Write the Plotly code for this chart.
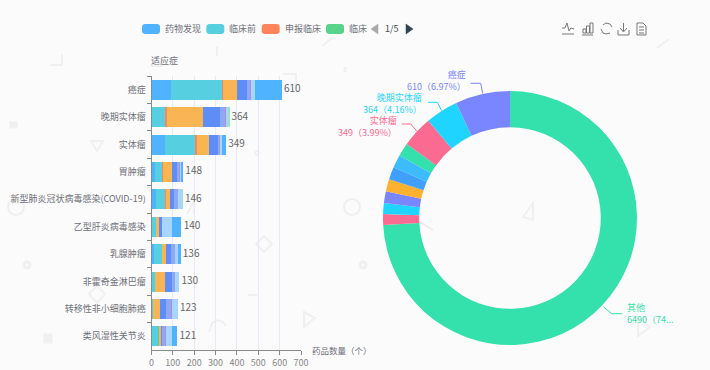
import math
import plotly.graph_objects as go

W, H = 710, 370
FONT = "Noto Sans CJK SC"
BG = "#fbfbfb"

categories = ["癌症", "晚期实体瘤", "实体瘤", "胃肿瘤", "新型肺炎冠状病毒感染(COVID-19)",
              "乙型肝炎病毒感染", "乳腺肿瘤", "非霍奇金淋巴瘤", "转移性非小细胞肺癌", "类风湿性关节炎"]
totals = [610, 364, 349, 148, 146, 140, 136, 130, 123, 121]

stage_names = ["药物发现", "临床前", "申报临床", "临床", "临床I期", "临床II期", "临床III期",
               "批准上市", "无进展", "终止", "其他阶段"]
stage_colors = ["#4fb3ff", "#56d0e0", "#ff845c", "#57d38c", "#f9b454", "#5e8df5", "#8fa8f5",
                "#b18fd8", "#a8d5ff", "#9ce3c0", "#4fb3ff"]
s_discovery = [90, 0, 64, 17, 20, 0, 11, 0, 0, 2]
s_preclinical = [239, 65, 140, 34, 45, 23, 37, 17, 6, 28]
s_ind = [4, 9, 7, 1, 1, 0, 0, 0, 0, 0]
s_clinical = [1, 0, 0, 0, 0, 0, 0, 0, 0, 3]
s_phase1 = [67, 165, 59, 45, 19, 11, 22, 47, 33, 12]
s_phase2 = [47, 84, 42, 23, 19, 14, 22, 33, 28, 5]
s_phase3 = [15, 22, 6, 9, 18, 0, 16, 11, 25, 14]
s_approved = [5, 6, 3, 5, 0, 1, 4, 4, 6, 2]
s_stalled = [11, 8, 8, 5, 19, 46, 11, 18, 25, 31]
s_stopped = [6, 5, 0, 0, 4, 3, 0, 0, 0, 1]
s_other = [125, 0, 20, 9, 0, 42, 13, 0, 0, 23]
stage_values = [s_discovery, s_preclinical, s_ind, s_clinical, s_phase1, s_phase2, s_phase3,
                s_approved, s_stalled, s_stopped, s_other]

pie_labels = ["其他", "类风湿性关节炎", "转移性非小细胞肺癌", "非霍奇金淋巴瘤", "乳腺肿瘤",
              "乙型肝炎病毒感染", "新型肺炎冠状病毒感染(COVID-19)", "胃肿瘤", "实体瘤", "晚期实体瘤", "癌症"]
pie_values = [6490, 121, 123, 130, 136, 140, 146, 148, 349, 364, 610]
pie_colors = ["#34e0ab", "#fb6a90", "#1fd5ff", "#7a86ff", "#ffb02e", "#3fa0ff", "#3cbcff",
              "#34e0ab", "#fb6a90", "#1fd5ff", "#7a86ff"]

legend_labels = ["药物发现", "临床前", "申报临床", "临床"]
x_ticks = [0, 100, 200, 300, 400, 500, 600, 700]


def px(x):
    return x / W


def py(y):
    return 1 - y / H


def path(points, close=False):
    s = "M " + " L ".join(f"{px(a):.5f} {py(b):.5f}" for a, b in points)
    return s + (" Z" if close else "")


def rrect(x0, y0, x1, y1, r=3):
    n = 5
    pts = []
    for cx, cy, a0 in [(x1 - r, y0 + r, -90), (x1 - r, y1 - r, 0), (x0 + r, y1 - r, 90), (x0 + r, y0 + r, 180)]:
        for i in range(n + 1):
            a = math.radians(a0 + 90 * i / n)
            pts.append((cx + r * math.cos(a), cy + r * math.sin(a)))
    return path(pts, True)


shapes = []


def line(points, color, width=1, close=False, fill=None, layer="above"):
    shapes.append(dict(type="path", xref="paper", yref="paper", path=path(points, close),
                       line=dict(color=color, width=width),
                       fillcolor=fill if fill else "rgba(0,0,0,0)", layer=layer))


def ring(cx, cy, r, color="#efefef", width=2):
    shapes.append(dict(type="circle", xref="paper", yref="paper", x0=px(cx - r), x1=px(cx + r),
                       y0=py(cy + r), y1=py(cy - r), line=dict(color=color, width=width), layer="below"))


# faint background decoration
WM = "#f0f0f0"
ring(16, 207, 8)
ring(352, 207, 8)
ring(27, 265, 3, WM, 3)
ring(363, 265, 3, WM, 3)
ring(257, 153, 2, WM, 2)
line([(91, 141), (103, 141), (97, 151)], WM, 2, True, layer="below")
line([(187, 214), (194, 201), (194, 214)], WM, 2, False, layer="below")
line([(523, 217), (533, 203), (533, 220)], WM, 2, True, layer="below")
line([(264, 236), (272, 244), (264, 252), (256, 244)], WM, 2, True, layer="below")
line([(97, 286), (105, 294), (97, 303), (89, 294)], WM, 2, True, layer="below")
line([(304, 312), (315, 318), (304, 327)], WM, 2, True, layer="below")
line([(248, 295), (257, 295)], WM, 2, layer="below")
line([(209, 332), (212, 323), (218, 320), (223, 322), (226, 326)], WM, 2, layer="below")
line([(45, 335), (51, 335), (51, 342), (45, 342)], WM, 3, True, WM, layer="below")
line([(11, 123), (16, 123), (16, 127), (11, 127)], WM, 3, True, WM, layer="below")
line([(638, 318), (650, 327), (638, 336)], WM, 2, True, layer="below")
line([(50, 65), (62, 65), (62, 54)], WM, 2, layer="below")
line([(657, 48), (669, 39)], WM, 2, layer="below")
line([(322, 46), (332, 38)], WM, 2, layer="below")
line([(345, 67), (345, 72)], WM, 3, layer="below")
line([(217, 46), (217, 56)], WM, 2, layer="below")
line([(420, 222), (433, 230)], "#ececec", 2, layer="below")
line([(283, 74), (296, 74), (296, 88)], WM, 2, layer="below")
line([(150, 66), (162, 66), (162, 60)], WM, 2, layer="below")

# legend swatches and pager
for (x0, x1), c in zip([(142, 160), (206.3, 224.3), (261.7, 279.7), (326, 344)],
                       [stage_colors[0], stage_colors[1], stage_colors[2], stage_colors[3]]):
    shapes.append(dict(type="path", xref="paper", yref="paper", path=rrect(x0, 24, x1, 34),
                       fillcolor=c, line=dict(width=0)))
line([(378, 24), (371, 29), (378, 34)], "#aaaaaa", 0.5, True, "#aaaaaa")
line([(406, 24), (413, 29), (406, 34)], "#2f4554", 0.5, True, "#2f4554")

# toolbar icons
IC = "#777777"
line([(562, 34), (574, 34)], IC)
line([(562, 28), (565, 28), (567, 23), (569, 31), (571, 28), (574, 29)], IC)
line([(582, 35), (593, 35)], IC)
for a, b, top in [(583, 586, 29), (586.5, 589.5, 26), (590, 593, 23)]:
    line([(a, 33), (a, top), (b, top), (b, 33)], IC, close=True)
line([(603, 25), (606, 23), (610, 24), (612, 27)], IC)
line([(610, 33), (606, 34), (603, 33), (601, 29)], IC)
line([(623.5, 23), (623.5, 31)], IC)
line([(620, 28), (623.5, 32), (627, 28)], IC)
line([(618, 30), (618, 35), (629, 35), (629, 30)], IC)
line([(637, 23), (643, 23), (646, 26), (646, 35), (637, 35)], IC, close=True)
for yy in (27, 30, 33):
    line([(639, yy), (644, yy)], IC)

# pie leader lines
line([(482.7, 93.3), (480.7, 83.3), (470.7, 83.3)], pie_colors[10])
line([(441.7, 110.7), (437.3, 102.3), (428, 102.3)], pie_colors[9])
line([(417.3, 131.7), (410.7, 124), (401.7, 124)], pie_colors[8])
line([(603.3, 306.7), (611.7, 313.7), (622.3, 313.7)], pie_colors[0])

annotations = []


def text(x, y, t, color, size=9, anchor="left"):
    annotations.append(dict(xref="paper", yref="paper", x=px(x), y=py(y), text=t, showarrow=False,
                            xanchor=anchor, yanchor="middle", align=anchor,
                            borderpad=0, font=dict(family=FONT, size=size, color=color)))


GREY = "#6e7079"
for x, t in zip([163.7, 228, 283.7, 348], legend_labels):
    text(x, 28.5, t, GREY)
text(392, 28.5, "1/5", "#444444", 9, "center")
text(149.5, 60, "适应症", GREY)
text(311, 349.5, "药品数量（个）", GREY, 8.5)

text(466.5, 80.3, f"{pie_labels[10]}<br>{pie_values[10]}（6.97%）", pie_colors[10], anchor="right")
text(422.7, 103, f"{pie_labels[9]}<br>{pie_values[9]}（4.16%）", pie_colors[9], anchor="right")
text(397.7, 126, f"{pie_labels[8]}<br>{pie_values[8]}（3.99%）", pie_colors[8], anchor="right")
text(625.5, 313, f"{pie_labels[0]}<br>{pie_values[0]}（74...", pie_colors[0])

fig = go.Figure()
for name, vals, col in zip(stage_names, stage_values, stage_colors):
    fig.add_trace(go.Bar(y=categories, x=vals, name=name, orientation="h",
                         marker=dict(color=col, line=dict(width=0)), showlegend=False))
fig.add_trace(go.Scatter(y=categories, x=totals, mode="text", text=[f" {v}" for v in totals],
                         textposition="middle right", cliponaxis=False, showlegend=False,
                         textfont=dict(family=FONT, size=10, color="#666666")))
fig.add_trace(go.Pie(labels=pie_labels, values=pie_values, sort=False, direction="clockwise", rotation=0,
                     hole=0.715, marker=dict(colors=pie_colors, line=dict(width=0)), textinfo="none",
                     showlegend=False, domain=dict(x=[px(383), px(637)], y=[py(345), py(91)])))

fig.update_layout(
    width=W, height=H, autosize=False, margin=dict(l=0, r=0, t=0, b=0, pad=0, autoexpand=False),
    paper_bgcolor=BG, plot_bgcolor="rgba(0,0,0,0)", barmode="stack", bargap=0.27,
    shapes=shapes, annotations=annotations, font=dict(family=FONT, size=9, color=GREY),
    xaxis=dict(domain=[px(151.5), px(301)], range=[0, 700], tickvals=x_ticks, showgrid=True,
               gridcolor="#e6eaf4", gridwidth=1, zeroline=False, showline=True, linecolor="#8a8a8a",
               ticks="outside", ticklen=4, tickcolor="#8a8a8a", automargin=False,
               tickfont=dict(family=FONT, size=9, color="#888888"), anchor="y"),
    yaxis=dict(domain=[py(350), py(76)], autorange="reversed", type="category", showgrid=False,
               showline=True, linecolor="#8a8a8a", ticks="outside", ticklen=4, tickcolor="#8a8a8a",
               tickson="boundaries", zeroline=False, automargin=False, ticklabelstandoff=3,
               tickfont=dict(family=FONT, size=9, color=GREY), anchor="x"),
)

fig.write_html("out.html", config={"displayModeBar": False},
               post_script="document.body.style.margin='0';document.body.style.overflow='hidden';")
